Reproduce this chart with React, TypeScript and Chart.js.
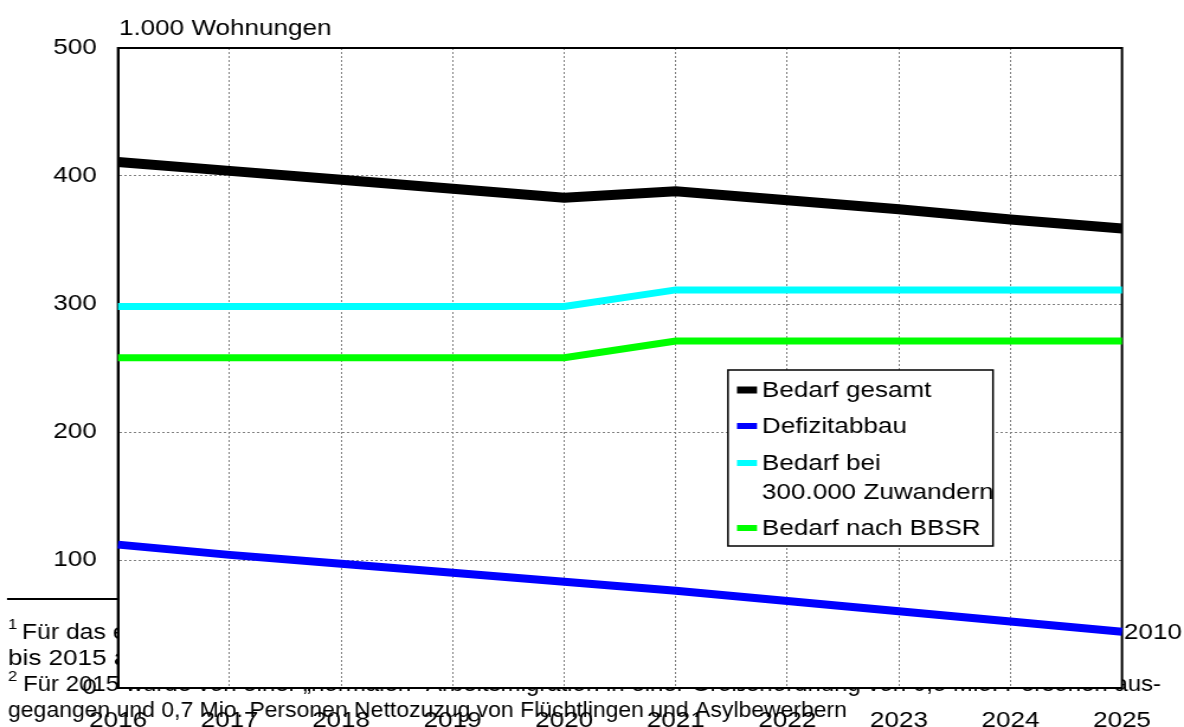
import React, { useEffect, useRef } from "react";
import { Chart, registerables } from "chart.js";

Chart.register(...registerables);

// ---- data ----
const years = ["2016", "2017", "2018", "2019", "2020", "2021", "2022", "2023", "2024", "2025"];
const bedarfGesamt = [411, 404, 397, 390, 383, 388, 381, 374, 366, 359];
const defizitabbau = [112, 104, 97, 90, 83, 76, 68, 60, 52, 44];
const bedarf300 = [298, 298, 298, 298, 298, 311, 311, 311, 311, 311];
const bedarfBBSR = [258, 258, 258, 258, 258, 271, 271, 271, 271, 271];
const yMin = 0;
const yMax = 500;
const yStep = 100;
const seriesLabels = ["Bedarf gesamt", "Defizitabbau", "Bedarf bei\n300.000 Zuwandern", "Bedarf nach BBSR"];
const seriesColors = ["#000000", "#0000ff", "#00ffff", "#00ff00"];
const titleText = "1.000 Wohnungen";
const footnote1Left = "Für das erste Jahr";
const footnote1Right = "2010";
const footnote2Left = "bis 2015 angesetzt";
const footnote3 = "Für 2015 wurde von einer „normalen“ Arbeitsmigration in einer Größenordnung von 0,5 Mio. Personen aus-";
const footnote4 = "gegangen und 0,7 Mio. Personen Nettozuzug von Flüchtlingen und Asylbewerbern";

// ---- layout (internal canvas is stretched horizontally) ----
const CW = 1000;
const CH = 727;
const S = 1184 / CW;
const sx = (x: number) => x / S;
const FONT = '"Liberation Sans", Arial, sans-serif';

const decoPlugin = {
  id: "deco",
  beforeDraw(chart: any) {
    const ctx = chart.ctx as CanvasRenderingContext2D;
    const a = chart.chartArea;
    ctx.save();
    ctx.fillStyle = "#fff";
    ctx.fillRect(0, 0, chart.width, chart.height);
    // footnote rule
    ctx.strokeStyle = "#000";
    ctx.lineWidth = 2;
    ctx.beginPath();
    ctx.moveTo(sx(7), 599);
    ctx.lineTo(sx(400), 599);
    ctx.stroke();
    ctx.fillStyle = "#000";
    ctx.textAlign = "left";
    ctx.textBaseline = "alphabetic";
    const sup = (t: string, x: number, base: number) => {
      ctx.font = `14px ${FONT}`;
      ctx.fillText(t, x, base - 10);
    };
    const wide = (t: string, x: number, base: number, k: number) => {
      ctx.save();
      ctx.translate(x, base);
      ctx.scale(k, 1);
      ctx.fillText(t, 0, 0);
      ctx.restore();
    };
    // line 1
    sup("1", sx(8), 639);
    ctx.font = `22px ${FONT}`;
    wide(footnote1Left, sx(22), 639, 0.95);
    ctx.fillText(footnote1Right, sx(1124), 639);
    // line 2
    wide(footnote2Left, sx(8), 665, 1.0);
    // line 3
    sup("2", sx(8), 691);
    ctx.font = `22px ${FONT}`;
    {
      const x0 = sx(23);
      const target = sx(1161) - x0;
      const w = ctx.measureText(footnote3).width;
      wide(footnote3, x0, 691, target / w);
    }
    // line 4
    {
      const x0 = sx(8);
      const target = sx(847) - x0;
      const w = ctx.measureText(footnote4).width;
      wide(footnote4, x0, 717, target / w);
    }
    // plot area background covers footnote
    ctx.fillStyle = "#fff";
    ctx.fillRect(a.left, a.top, a.right - a.left, a.bottom - a.top);
    // title
    ctx.fillStyle = "#000";
    ctx.font = `22px ${FONT}`;
    ctx.fillText(titleText, sx(119), 35);
    ctx.restore();
  },
  beforeDatasetsDraw(chart: any) {
    const ctx = chart.ctx as CanvasRenderingContext2D;
    const a = chart.chartArea;
    ctx.save();
    ctx.strokeStyle = "#000";
    ctx.lineWidth = 2;
    ctx.strokeRect(a.left, a.top, a.right - a.left, a.bottom - a.top);
    ctx.restore();
  },
  afterDatasetsDraw(chart: any) {
    const ctx = chart.ctx as CanvasRenderingContext2D;
    ctx.save();
    const bx = sx(728);
    const by = 370;
    const bw = sx(993) - bx;
    const bh = 546 - by;
    ctx.fillStyle = "#fff";
    ctx.fillRect(bx, by, bw, bh);
    ctx.strokeStyle = "#000";
    ctx.lineWidth = 1.5;
    ctx.strokeRect(bx, by, bw, bh);
    const rowY = [[390], [426], [463, 492], [528]];
    const swH = [7, 6, 6, 6];
    ctx.font = `22px ${FONT}`;
    ctx.textBaseline = "middle";
    ctx.textAlign = "left";
    chart.data.datasets.forEach((ds: any, i: number) => {
      const lines = String(ds.label).split("\n");
      const y0 = rowY[i][0];
      ctx.fillStyle = ds.borderColor;
      ctx.fillRect(sx(737), y0 - swH[i] / 2, sx(757) - sx(737), swH[i]);
      ctx.fillStyle = "#000";
      lines.forEach((ln: string, k: number) => {
        ctx.fillText(ln, sx(762), rowY[i][k] + 1);
      });
    });
    ctx.restore();
  },
};

export default function App() {
  const ref = useRef<HTMLCanvasElement | null>(null);
  useEffect(() => {
    if (!ref.current) return;
    Chart.defaults.font.family = FONT;
    Chart.defaults.font.size = 22;
    Chart.defaults.color = "#000";
    const series = [bedarfGesamt, defizitabbau, bedarf300, bedarfBBSR];
    const widths = [10, 8, 7, 7];
    const chart = new Chart(ref.current, {
      type: "line",
      data: {
        labels: years,
        datasets: series.map((d, i) => ({
          label: seriesLabels[i],
          data: d,
          borderColor: seriesColors[i],
          backgroundColor: seriesColors[i],
          borderWidth: widths[i],
          pointRadius: 0,
          tension: 0,
          fill: false,
          borderJoinStyle: "miter" as const,
          borderCapStyle: "butt" as const,
        })),
      },
      options: {
        responsive: false,
        animation: false,
        devicePixelRatio: 1,
        layout: { padding: { left: 0, top: 48, right: CW - sx(1122), bottom: 0 } },
        plugins: { legend: { display: false }, tooltip: { enabled: false }, title: { display: false } },
        scales: {
          x: {
            type: "category",
            offset: false,
            grid: { color: "#808080", lineWidth: 1, drawTicks: false, offset: false },
            border: { display: true, color: "#000", width: 2, dash: [2, 2] } as any,
            ticks: { padding: 20, autoSkip: false, maxRotation: 0, minRotation: 0, color: "#000", font: { size: 22 } },
            afterFit: (s: any) => {
              s.height = CH - 688;
            },
          },
          y: {
            min: yMin,
            max: yMax,
            grid: { color: "#808080", lineWidth: 1, drawTicks: false },
            border: { display: true, color: "#000", width: 2, dash: [2, 2] } as any,
            ticks: { stepSize: yStep, padding: 18, color: "#000", font: { size: 22 } },
            afterFit: (s: any) => {
              s.width = sx(118);
            },
          },
        },
      },
      plugins: [decoPlugin],
    });
    return () => chart.destroy();
  }, []);
  return (
    <div style={{ position: "absolute", left: 0, top: 0, width: 1184, height: 727 }}>
      <canvas ref={ref} width={CW} height={CH} style={{ width: "1184px", height: "727px", display: "block" }} />
    </div>
  );
}
